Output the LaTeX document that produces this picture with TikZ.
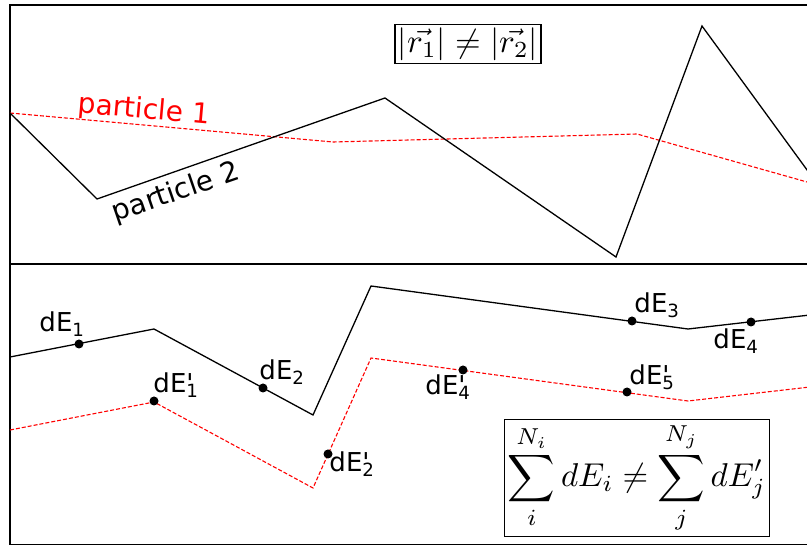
\documentclass[tikz,border=0pt]{standalone}
\usepackage{fontspec}
\usepackage{tikz}
\usetikzlibrary{positioning}
\newfontfamily\lblfont{DejaVu Sans}

\tikzset{
  path1/.style={red, line width=1.1pt, dash pattern=on 4pt off 2pt},
  path2/.style={black, line width=1.3pt},
  dot/.style={circle, fill=black, inner sep=0pt, minimum size=9pt},
  lbl/.style={font=\lblfont\fontsize{26}{30}\selectfont, inner sep=0pt},
  eqbox/.style={draw, line width=1.2pt, inner sep=3pt},
}
\newcommand{\pr}{\rlap{\textquotesingle}}

\begin{document}
\begin{tikzpicture}[x=1pt, y=-1pt]
\useasboundingbox (0,0) rectangle (807,545);

% Frame
\draw[line width=1.3pt] (10,5) rectangle (812,545);
\draw[line width=1.3pt] (10,264) -- (812,264);

% Top panel: trajectories
\draw[path1] (10,113) -- (333,142) -- (637,134) -- (807,182);
\draw[path2] (10,113) -- (97,199) -- (385,98) -- (616,257) -- (702,26) -- (810,174);

\node[lbl, font=\lblfont\fontsize{28}{32}\selectfont, text=red, rotate=-5] (p1) at (144,111) {particle 1};
\node[lbl, font=\lblfont\fontsize{28}{32}\selectfont, rotate=19] (p2) at (176,193) {particle 2};

\node[eqbox] (rr) at (468,44) {\scalebox{3.3}{$|\vec{r_1}| \neq |\vec{r_2}|$}};

% Bottom panel: energy paths
\draw[path2] (10,357) -- (154,329) -- (313,415) -- (371,286) -- (688,329) -- (810,315);
\draw[path1] (10,430) -- (154,402) -- (313,488) -- (371,358) -- (688,401) -- (810,387);

% Energy points on path 2
\node[dot] (e1) at (79,344) {};
\node[dot] (e2) at (263,388) {};
\node[dot] (e3) at (632,321) {};
\node[dot] (e4) at (751,322) {};
\node[lbl] (l1) at (62,324) {dE\textsubscript{1}};
\node[lbl] (l2) at (282,372) {dE\textsubscript{2}};
\node[lbl] (l3) at (657,305) {dE\textsubscript{3}};
\node[lbl] (l4) at (736,341) {dE\textsubscript{4}};

% Energy points on path 1
\node[dot] (f1) at (154,401) {};
\node[dot] (f2) at (328,454) {};
\node[dot] (f4) at (463,370) {};
\node[dot] (f5) at (627,392) {};
\node[lbl] (m1) at (176,385) {dE\pr\textsubscript{1}};
\node[lbl] (m2) at (352,464) {dE\pr\textsubscript{2}};
\node[lbl] (m4) at (448,387) {dE\pr\textsubscript{4}};
\node[lbl] (m5) at (652,377) {dE\pr\textsubscript{5}};

% Sum inequality
\node[eqbox] (sum) at (637,478)
  {\scalebox{3.3}{$\displaystyle\sum_{i}^{N_i} dE_i \neq \sum_{j}^{N_j} dE'_j$}};

\end{tikzpicture}
\end{document}
